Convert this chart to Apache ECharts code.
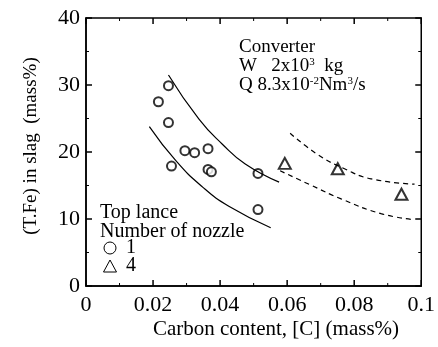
<!DOCTYPE html>
<html><head><meta charset="utf-8">
<script src="https://cdn.jsdelivr.net/npm/echarts@6/dist/echarts.min.js"></script>
<style>html,body{margin:0;padding:0;background:#fff}#c{width:438px;height:347px}</style>
</head><body><div id="c"></div>
<script>
const xTicks = [0, 0.02, 0.04, 0.06, 0.08, 0.1];
const yTicks = [0, 10, 20, 30, 40];
const nozzle1 = [[0.0216,27.5],[0.0246,29.9],[0.0246,24.4],[0.0255,17.9],[0.0295,20.2],[0.0324,19.9],[0.0364,20.5],[0.0364,17.4],[0.0374,17.05],[0.0513,16.8],[0.0513,11.4]];
const nozzle4 = [[0.0593,18.3],[0.0751,17.5],[0.0941,13.7]];
const solidUpper = [[0.0246,31.5],[0.0337,24.9],[0.0406,21.2],[0.0475,18.2],[0.0576,15.5]];
const solidLower = [[0.0189,23.8],[0.0268,18.7],[0.0347,14.8],[0.0426,11.9],[0.0551,8.7]];
const dashUpper = [[0.0609,22.8],[0.0692,19.6],[0.0771,17.5],[0.085,16.0],[0.098,15.2]];
const dashLower = [[0.0579,17.2],[0.0673,15.0],[0.0761,13.0],[0.088,10.8],[0.098,9.9]];
const legendNames = ['1', '4'];
const xTitle = 'Carbon content, [C] (mass%)';
const yTitle = '(T.Fe) in slag  (mass%)';

const F = "'Liberation Serif','Times New Roman',serif";
const chart = echarts.init(document.getElementById('c'));
const lineSeries = (d, dashed) => ({type:'line', data:d, smooth:true, symbol:'none', silent:true,
  lineStyle:{color:'#000', width:1.2, type: dashed ? [5,4] : 'solid'}});
const baseGraphic = [
  {type:'text', x:276, y:329, style:{text:xTitle, fill:'#000', font:'21px '+F, align:'center', verticalAlign:'middle'}},
  {type:'text', x:31, y:146, rotation:Math.PI/2, style:{text:yTitle, fill:'#000', font:'19px '+F, align:'center', verticalAlign:'middle'}},
  {type:'text', left:100, top:203, style:{text:'Top lance\nNumber of nozzle', fill:'#000', font:'20px '+F, lineHeight:19}},
  {type:'circle', shape:{cx:110, cy:248, r:6}, style:{fill:'none', stroke:'#000', lineWidth:1}},
  {type:'polygon', shape:{points:[[110,260],[103.5,272],[116.5,272]]}, style:{fill:'none', stroke:'#000', lineWidth:1}},
  {type:'text', left:126, top:238, style:{text:legendNames[0], fill:'#000', font:'20px '+F}},
  {type:'text', left:126, top:256, style:{text:legendNames[1], fill:'#000', font:'20px '+F}},
  {type:'text', left:239, top:38, style:{
    text:'Converter\nW   2x10{s|3}  kg\nQ 8.3x10{s|-2}Nm{s|3}/s',
    fill:'#000', font:'19px '+F, lineHeight:19,
    rich:{s:{fontSize:11, fontFamily:F, verticalAlign:'top', lineHeight:19, fill:'#000'}}}}
];
chart.setOption({
  animation:false,
  grid:{left:86, right:14, top:18, bottom:61},
  xAxis:{type:'value', min:xTicks[0], max:xTicks[xTicks.length-1], interval:0.02,
    axisLine:{show:true, onZero:false, lineStyle:{color:'#000', width:1.5}},
    axisTick:{show:false}, splitLine:{show:false},
    axisLabel:{color:'#000', fontFamily:F, fontSize:22, margin:8}},
  yAxis:{type:'value', min:yTicks[0], max:yTicks[yTicks.length-1], interval:10,
    axisLine:{show:true, onZero:false, lineStyle:{color:'#000', width:1.5}},
    axisTick:{show:false}, splitLine:{show:false},
    axisLabel:{color:'#000', fontFamily:F, fontSize:22, margin:6}},
  graphic: baseGraphic,
  series:[
    lineSeries(solidUpper,false), lineSeries(solidLower,false),
    lineSeries(dashUpper,true), lineSeries(dashLower,true),
    {name:legendNames[0], type:'scatter', data:nozzle1, symbol:'emptyCircle', symbolSize:9, itemStyle:{color:'#000', borderWidth:1}},
    {name:legendNames[1], type:'scatter', data:nozzle4, symbol:'emptyTriangle', symbolSize:[12,11], itemStyle:{color:'#000', borderWidth:1}}
  ]
});

// Frame and inward ticks on all four sides, positioned through the chart's own scales.
const px = v => chart.convertToPixel({xAxisIndex:0, yAxisIndex:0}, v);
const xMin = xTicks[0], xMax = xTicks[xTicks.length-1], yMin = yTicks[0], yMax = yTicks[yTicks.length-1];
const [X0, Y0] = px([xMin, yMin]);
const [X1, Y1] = px([xMax, yMax]);
const frame = [{type:'rect', z:5, shape:{x:X0, y:Y1, width:X1-X0, height:Y0-Y1},
  style:{fill:'none', stroke:'#000', lineWidth:1.5}}];
const seg = (x1,y1,x2,y2,w) => ({type:'line', z:5, shape:{x1,y1,x2,y2}, style:{stroke:'#000', lineWidth:w}});
const addX = (v, len, w) => { const x = px([v, yMin])[0]; frame.push(seg(x,Y0,x,Y0-len,w), seg(x,Y1,x,Y1+len,w)); };
const addY = (v, len, w) => { const y = px([xMin, v])[1]; frame.push(seg(X0,y,X0+len,y,w), seg(X1,y,X1-len,y,w)); };
xTicks.forEach((v,i) => { addX(v, 6, 1.5); if (i < xTicks.length-1) addX((v + xTicks[i+1]) / 2, 3, 1); });
yTicks.forEach((v,i) => { addY(v, 6, 1.5); if (i < yTicks.length-1) addY((v + yTicks[i+1]) / 2, 3, 1); });
chart.setOption({graphic: baseGraphic.concat(frame)});
</script></body></html>
